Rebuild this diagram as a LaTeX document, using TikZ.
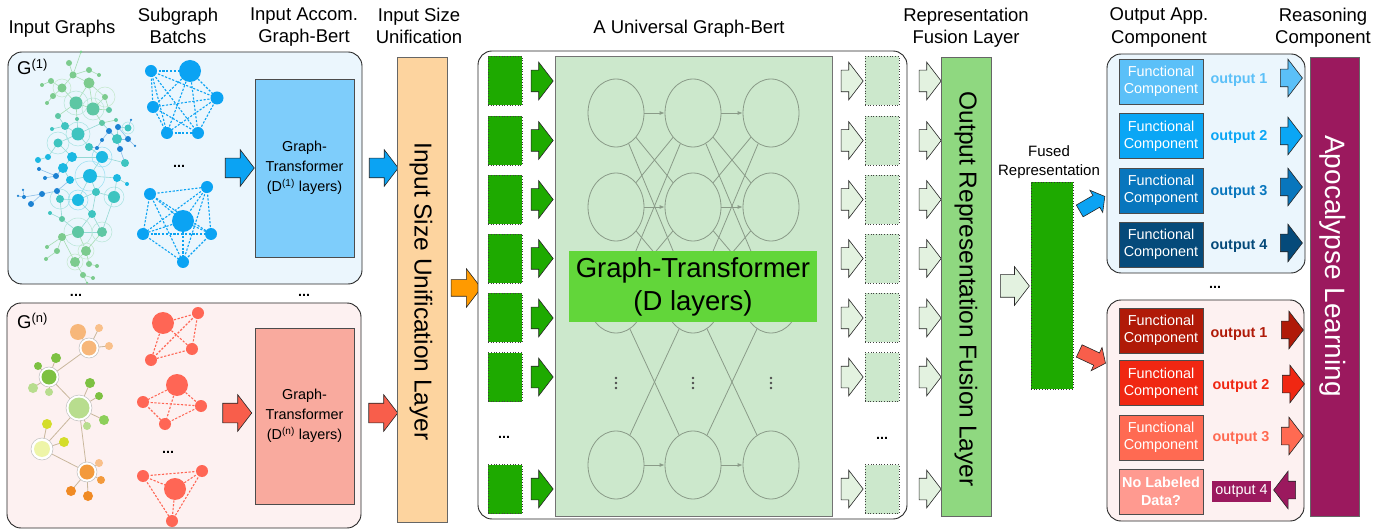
\documentclass[tikz,border=0pt]{standalone}
\usepackage{fontspec}
\setmainfont{Liberation Sans}
\usetikzlibrary{shapes.geometric,shapes.arrows,arrows.meta}
\definecolor{cPanelB}{HTML}{EBF6FD}
\definecolor{cPanelR}{HTML}{FDF1F1}
\definecolor{cBlueBox}{HTML}{7ECDFB}
\definecolor{cBlue}{HTML}{0BA3F3}
\definecolor{cSalmon}{HTML}{F9AA9E}
\definecolor{cRed}{HTML}{F85E4B}
\definecolor{cSubR}{HTML}{FF6655}
\definecolor{cOrangeBar}{HTML}{FDD49F}
\definecolor{cOrange}{HTML}{FF9A00}
\definecolor{cPanelG}{HTML}{CCE8CC}
\definecolor{cLabelG}{HTML}{62D63A}
\definecolor{cSq}{HTML}{1EAA00}
\definecolor{cLightArr}{HTML}{E3F2E0}
\definecolor{cFusion}{HTML}{8FD880}
\definecolor{cB1}{HTML}{5BC0F8}
\definecolor{cB2}{HTML}{0AA6F5}
\definecolor{cB3}{HTML}{0876BD}
\definecolor{cB4}{HTML}{054A7A}
\definecolor{cR1}{HTML}{B01A08}
\definecolor{cR2}{HTML}{F02712}
\definecolor{cR3}{HTML}{FF6A52}
\definecolor{cR4}{HTML}{FF9A90}
\definecolor{cPurple}{HTML}{9B195E}
\definecolor{cNN}{HTML}{8A9B88}
\definecolor{gA}{HTML}{7CCB8E}
\definecolor{gB}{HTML}{5EC7A4}
\definecolor{gC}{HTML}{3EC4C0}
\definecolor{gD}{HTML}{1BB8E2}
\definecolor{gE}{HTML}{1C82D2}
\definecolor{eA}{HTML}{A6DDB2}
\definecolor{eC}{HTML}{94D8D4}
\definecolor{eE}{HTML}{8CBFE8}
\definecolor{oL}{HTML}{F7B77A}
\definecolor{oM}{HTML}{F9C08A}
\definecolor{gG}{HTML}{7DC142}
\definecolor{gL}{HTML}{B8DD8E}
\definecolor{gM}{HTML}{8DCF5A}
\definecolor{yG}{HTML}{D4DD2A}
\definecolor{yP}{HTML}{EEF5A8}
\definecolor{oD}{HTML}{F39A3C}
\definecolor{oO}{HTML}{F08A24}
\definecolor{eT}{HTML}{C9B79C}
\newcommand{\fhdr}{\fontsize{18.5pt}{22.5pt}\selectfont}
\newcommand{\fsm}{\fontsize{14.4pt}{17.3pt}\selectfont}
\newcommand{\fgt}{\fontsize{14.4pt}{20pt}\selectfont}
\newcommand{\fbig}{\fontsize{27.5pt}{33pt}\selectfont}
\newcommand{\fbar}{\fontsize{24.5pt}{29pt}\selectfont}
\newcommand{\fapo}{\fontsize{28pt}{33pt}\selectfont}
\newcommand{\ffu}{\fontsize{15pt}{19.3pt}\selectfont}
\newcommand{\gn}[5]{\node[gnode={#5}{#4}] (#1) at (#2,#3) {};}
\pgfdeclarelayer{bg}\pgfdeclarelayer{edg}\pgfsetlayers{bg,edg,main}
\begin{document}
\begin{tikzpicture}[x=1pt,y=-1pt,
 hdr/.style={font=\fhdr,align=center,inner sep=0pt,anchor=north},
 gnode/.style 2 args={circle,inner sep=0pt,minimum size=#2,fill=#1},
 panel/.style={draw=black!85,line width=0.9pt,rounded corners=14pt,inner sep=0pt},
 sgB/.style={circle,inner sep=0pt,fill=cBlue,minimum size=#1},
 sgR/.style={circle,inner sep=0pt,fill=cSubR,minimum size=#1},
 dashB/.style={cBlue,line width=1.1pt,dash pattern=on 2.2pt off 1.6pt},
 dashR/.style={cSubR,line width=1.1pt,dash pattern=on 2.2pt off 1.6pt},
 blk/.style={single arrow,inner xsep=0pt,draw=black!85,line width=0.6pt,single arrow tip angle=105,anchor=center},
 arrL/.style={blk,minimum height=29pt,inner ysep=9.5pt,single arrow head extend=8.5pt},
 arrS/.style={blk,minimum height=22pt,inner ysep=10.5pt,single arrow head extend=8pt},
 arrO/.style={blk,minimum height=22pt,inner ysep=8.5pt,single arrow head extend=10pt},
 sq/.style={draw=black!75,dotted,line width=0.7pt,minimum width=34pt,minimum height=49pt,inner sep=0pt},
 ell/.style={ellipse,draw=cNN,line width=0.8pt,minimum width=56pt,minimum height=68pt,inner sep=0pt},
 nnl/.style={cNN,line width=0.8pt},
 nna/.style={cNN,line width=0.8pt,-{Latex[length=5pt,width=4pt]}},
 comp/.style={draw=black!70,line width=0.8pt,minimum width=84pt,minimum height=45pt,inner sep=0pt,align=center,text=white,font=\fsm},
 olab/.style={font=\fsm\bfseries,inner sep=0pt},
 dots/.style={font=\fsm\bfseries,inner sep=0pt},
 bar/.style={draw=black!60,line width=0.8pt,minimum width=50pt,inner sep=0pt}
]
\useasboundingbox (0,0) rectangle (1395,529);
% ---------- headers
\node[hdr] (hIG) at (62,19.5) {Input Graphs};
\node[hdr] (hSB) at (178,7.5) {Subgraph\\Batchs};
\node[hdr] (hIA) at (304,7.5) {Input Accom.\\Graph-Bert};
\node[hdr] (hIS) at (419,7.5) {Input Size\\Unification};
\node[hdr] (hUG) at (689,19.5) {A Universal Graph-Bert};
\node[hdr] (hRF) at (966,7.5) {Representation\\Fusion Layer};
\node[hdr] (hOA) at (1159,7.5) {Output App.\\Component};
\node[hdr] (hRC) at (1323,7.5) {Reasoning\\Component};
% ---------- input panels
\begin{pgfonlayer}{bg}
\node[panel,fill=cPanelB,minimum width=354pt,minimum height=232pt] (P1) at (185,168) {};
\node[panel,fill=cPanelR,minimum width=354pt,minimum height=225pt] (P2) at (184,415.5) {};
\end{pgfonlayer}
\node[anchor=west,font=\fhdr,inner sep=0pt] (G1) at (17,67) {G\textsuperscript{(1)}};
\node[anchor=west,font=\fhdr,inner sep=0pt] (Gn) at (17,321) {G\textsuperscript{(n)}};
% ---------- G(1) graph
\gn{n1}{81}{52}{3pt}{gA}\gn{n2}{69}{63}{6pt}{gA}\gn{n3}{89}{70}{6pt}{gA}\gn{n4}{99}{75}{4pt}{gA}
\gn{n5}{73}{75}{7pt}{gA}\gn{n6}{51}{81}{6pt}{gA}\gn{n7}{42}{85}{4pt}{gA}\gn{n8}{62}{88}{9pt}{gA}
\gn{n9}{89}{83}{11pt}{gA}\gn{n10}{53}{96}{6pt}{gA}\gn{n11}{105}{97}{6pt}{gA}\gn{n12}{76}{103}{13pt}{gB}
\gn{n13}{93}{109}{13pt}{gB}\gn{n14}{47}{103}{4pt}{gA}\gn{n15}{109}{110}{6pt}{gB}\gn{n16}{58}{116}{6pt}{gB}
\gn{n17}{77}{119}{4pt}{gB}\gn{n18}{102}{123}{6pt}{gB}\gn{n19}{116}{120}{4pt}{gB}\gn{n20}{65}{126}{8pt}{gC}
\gn{n21}{52}{129}{4pt}{gC}\gn{n22}{78}{134}{13pt}{gC}\gn{n23}{109}{131}{6pt}{gE}\gn{n24}{118}{127}{6pt}{gE}
\gn{n25}{128}{128}{7pt}{gC}\gn{n26}{131}{120}{2.5pt}{gE}\gn{n27}{58}{143}{9pt}{gC}\gn{n28}{89}{147}{8pt}{gC}
\gn{n29}{117}{139}{10pt}{gC}\gn{n30}{102}{140}{4pt}{gE}\gn{n31}{128}{139}{6pt}{gE}\gn{n32}{120}{149}{6pt}{gE}
\gn{n33}{97}{148}{4pt}{gE}\gn{n34}{125}{163}{8pt}{gC}\gn{n36}{135}{146}{2.5pt}{gE}\gn{n37}{38}{160}{6pt}{gD}
\gn{n38}{48}{157}{6pt}{gD}\gn{n39}{72}{157}{10pt}{gD}\gn{n40}{102}{157}{12pt}{gD}\gn{n41}{63}{168}{10pt}{gD}
\gn{n43}{90}{176}{14pt}{gD}\gn{n44}{70}{180}{8pt}{gD}\gn{n45}{39}{169}{4pt}{gE}\gn{n46}{56}{176}{6pt}{gE}
\gn{n47}{45}{178}{4pt}{gE}\gn{n48}{117}{178}{8pt}{gD}\gn{n49}{127}{184}{4pt}{gD}\gn{n50}{23}{190}{2.5pt}{gE}
\gn{n51}{18}{196}{2.5pt}{gE}\gn{n52}{24}{197}{4pt}{gE}\gn{n53}{42}{194}{6pt}{gE}\gn{n54}{57}{191}{6pt}{gE}
\gn{n55}{31}{204}{6pt}{gE}\gn{n56}{60}{199}{8pt}{gC}\gn{n57}{78}{200}{12pt}{gD}\gn{n58}{96}{192}{8pt}{gC}
\gn{n59}{114}{197}{12pt}{gC}\gn{n60}{50}{213}{4pt}{gC}\gn{n61}{62}{219}{6pt}{gB}\gn{n62}{92}{214}{8pt}{gC}
\gn{n63}{78}{232}{12pt}{gB}\gn{n64}{102}{232}{10pt}{gB}\gn{n65}{62}{237}{8pt}{gA}\gn{n66}{47}{247}{4pt}{gA}
\gn{n67}{57}{251}{6pt}{gA}\gn{n68}{46}{259}{4pt}{gA}\gn{n69}{86}{251}{10pt}{gA}\gn{n70}{75}{262}{10pt}{gA}
\gn{n71}{89}{264}{6pt}{gA}\gn{n72}{97}{266}{4pt}{gA}\gn{n73}{83}{275}{6pt}{gA}\gn{n74}{93}{278}{4pt}{gA}
\gn{n75}{87}{283}{2.5pt}{gA}
\begin{pgfonlayer}{edg}
\foreach \a/\b in {n1/n5,n2/n5,n3/n5,n4/n3,n5/n9,n5/n8,n6/n8,n7/n6,n8/n10,n8/n12,n9/n12,n9/n13,n9/n11,n10/n14,n11/n13,n11/n15,n12/n13,n12/n16,n12/n17,n13/n18,n13/n15,n18/n19,n63/n65,n65/n66,n65/n67,n67/n68,n63/n69,n64/n69,n69/n70,n69/n71,n71/n72,n70/n73,n73/n74,n73/n75,n65/n70}
  \draw[eA,line width=0.6pt] (\a.center) -- (\b.center);
\foreach \a/\b in {n16/n20,n20/n21,n20/n22,n17/n22,n22/n27,n22/n28,n22/n18,n18/n29,n29/n24,n24/n25,n27/n39,n27/n38,n38/n37,n28/n40,n39/n41,n39/n40,n40/n43,n40/n34,n41/n44,n43/n44,n43/n48,n48/n49,n43/n58,n54/n56,n56/n57,n57/n43,n57/n58,n58/n59,n59/n48,n56/n61,n60/n61,n58/n62,n62/n57,n62/n63,n62/n64,n61/n63,n63/n64,n59/n64}
  \draw[eC,line width=0.6pt] (\a.center) -- (\b.center);
\foreach \a/\b in {n29/n23,n29/n32,n29/n31,n25/n26,n23/n30,n30/n33,n33/n28,n34/n32,n31/n36,n41/n46,n46/n45,n46/n47,n44/n54,n54/n53,n53/n52,n52/n50,n52/n51,n53/n55,n24/n31}
  \draw[eE,line width=0.6pt] (\a.center) -- (\b.center);
\foreach \a/\r/\c in {n8/9/gA,n11/10/gA,n12/12/gB,n13/11/gB,n22/12/gC,n25/6/gC,n27/11/gC,n40/10/gD,n43/15/gD,n56/10/gC,n57/10/gD,n59/10/gC,n63/14/gB,n64/10/gB,n69/8/gA,n70/8/gA}
  \draw[\c!45,line width=0.5pt] (\a.center) circle (\r);
\end{pgfonlayer}
% ---------- G(n) graph
\gn{m1}{78}{332}{16pt}{oL}\gn{m2}{99}{328}{8pt}{oM}\gn{m3}{89}{348}{15pt}{oL}\gn{m4}{109}{346}{8pt}{oM}
\gn{m5}{56}{358}{10pt}{gG}\gn{m6}{38}{366}{8pt}{gG}\gn{m7}{49}{377}{15pt}{gG}\gn{m8}{33}{388}{10pt}{gL}
\gn{m9}{49}{392}{8pt}{gL}\gn{m10}{90}{383}{10pt}{gG}\gn{m11}{99}{396}{8pt}{gG}\gn{m12}{79}{408}{21pt}{gL}
\gn{m13}{104}{420}{10pt}{gM}\gn{m14}{87}{426}{8pt}{gL}\gn{m15}{47}{424}{10pt}{yG}\gn{m16}{64}{442}{10pt}{yG}
\gn{m17}{42}{449}{16pt}{yP}\gn{m18}{87}{472}{15pt}{oD}\gn{m19}{99}{463}{8pt}{oM}\gn{m20}{101}{480}{8pt}{oD}
\gn{m21}{71}{491}{10pt}{oO}\gn{m22}{88}{496}{10pt}{oO}
\begin{pgfonlayer}{edg}
\foreach \a/\b in {m1/m3,m2/m3,m4/m3,m3/m7,m5/m7,m6/m7,m8/m7,m9/m7,m7/m12,m10/m12,m11/m12,m13/m12,m14/m12,m12/m17,m12/m18,m15/m17,m16/m17,m17/m18,m19/m18,m20/m18,m21/m18,m22/m18}
  \draw[eT,line width=0.8pt] (\a.center) -- (\b.center);
\foreach \a/\r in {m3/10,m7/10,m12/13,m17/11,m18/10}
  \draw[black!25,fill=white,line width=0.5pt] (\a.center) circle (\r);
\end{pgfonlayer}
% ---------- subgraph batches (blue)
\node[sgB=12pt] (a1) at (151,71) {};\node[sgB=22pt] (a2) at (190,71) {};\node[sgB=13pt] (a3) at (217,98) {};
\node[sgB=12pt] (a4) at (153,107) {};\node[sgB=12pt] (a5) at (167,133) {};\node[sgB=12pt] (a6) at (198,133) {};
\node[sgB=12pt] (b1) at (150,194) {};\node[sgB=12pt] (b2) at (207,187) {};\node[sgB=22pt] (b3) at (183,221) {};
\node[sgB=12pt] (b4) at (143,234) {};\node[sgB=12pt] (b5) at (211,234) {};\node[sgB=12pt] (b6) at (183,262) {};
\begin{pgfonlayer}{edg}
\foreach \i/\js in {1/{2,3,4,5,6},2/{3,4,5,6},3/{4,5,6},4/{5,6},5/{6}}
  \foreach \j in \js {\draw[dashB] (a\i.center) -- (a\j.center); \draw[dashB] (b\i.center) -- (b\j.center);}
\end{pgfonlayer}
\node[dots] (d1) at (179,166) {...};
% ---------- subgraph batches (red)
\node[sgR=22pt] (c1) at (163,323) {};\node[sgR=12pt] (c2) at (198,313) {};\node[sgR=12pt] (c3) at (192,349) {};\node[sgR=12pt] (c4) at (151,360) {};
\node[sgR=22pt] (e1) at (177,385) {};\node[sgR=12pt] (e2) at (143,402) {};\node[sgR=12pt] (e3) at (201,406) {};\node[sgR=12pt] (e4) at (165,424) {};
\node[sgR=12pt] (f1) at (143,476) {};\node[sgR=12pt] (f2) at (202,471) {};\node[sgR=22pt] (f3) at (175,489) {};\node[sgR=12pt] (f4) at (172,521) {};
\begin{pgfonlayer}{edg}
\foreach \i/\js in {1/{2,3,4},2/{3,4},3/{4}}
  \foreach \j in \js {\draw[dashR] (c\i.center) -- (c\j.center); \draw[dashR] (e\i.center) -- (e\j.center); \draw[dashR] (f\i.center) -- (f\j.center);}
\end{pgfonlayer}
\node[dots] (d2) at (168,452) {...};
\node[dots] (d3) at (76,295) {...};
\node[dots] (d4) at (304,295) {...};
% ---------- per-graph transformers
\node[draw=black!70,line width=0.8pt,fill=cBlueBox,minimum width=99pt,minimum height=178pt,inner sep=0pt,align=center,font=\fgt] (T1) at (304.5,168) {Graph-\\Transformer\\(D\textsuperscript{(1)} layers)};
\node[draw=black!70,line width=0.8pt,fill=cSalmon,minimum width=99pt,minimum height=176pt,inner sep=0pt,align=center,font=\fgt] (Tn) at (304.5,416) {Graph-\\Transformer\\(D\textsuperscript{(n)} layers)};
\node[arrL,fill=cBlue] (ab1) at (236,168) {};
\node[arrL,fill=cBlue] (ab2) at (380,168) {};
\node[arrL,fill=cRed] (ar1) at (233.5,413) {};
\node[arrL,fill=cRed] (ar2) at (379.5,413) {};
% ---------- input size unification
\node[bar,fill=cOrangeBar,minimum height=465pt] (ISU) at (422,289.5) {};
\node[rotate=-90,font=\fbar,inner sep=0pt] (ISUt) at (421,291.5) {Input Size Unification Layer};
\node[blk,fill=cOrange,minimum height=30pt,inner ysep=8pt,single arrow head extend=11pt] (ao) at (463,288) {};
% ---------- universal graph-bert
\node[draw=black!85,line width=0.9pt,fill=white,rounded corners=14pt,minimum width=429pt,minimum height=468pt,inner sep=0pt] (UB) at (692.5,285) {};
\node[draw=black!55,line width=0.8pt,fill=cPanelG,minimum width=277pt,minimum height=460pt,inner sep=0pt] (GP) at (693.5,286) {};
\foreach \r/\y in {1/113,2/207,3/299,4/465}
  \foreach \c/\x in {1/616,2/693,3/771}
    \node[ell] (p\r\c) at (\x,\y) {};
\foreach \r/\s in {1/2,2/3,1/3,3/4}
  \foreach \a/\b in {1/2,2/1,2/3,3/2}
    \draw[nnl] (p\r\a) -- (p\s\b);
\foreach \r in {1,2,3,4} {\draw[nna] (p\r1) -- (p\r2); \draw[nna] (p\r2) -- (p\r3);}
\node[fill=cLabelG,minimum width=248pt,minimum height=71pt,inner sep=0pt,align=center,font=\fbig] (GTL) at (693,286.5) {Graph-Transformer\\(D layers)};
\foreach \x in {616,693,771}
  \foreach \dy in {-5,0,5}
    \fill[black!70] (\x,383+\dy) circle (1.3);
\foreach \k/\y in {1/81,2/140.5,3/199.5,4/258.5,5/318,6/377,7/489} {
  \node[sq,fill=cSq] (sL\k) at (505,\y) {};
  \node[arrS,fill=cSq] (aL\k) at (538,\y) {};
  \node[arrS,fill=cLightArr] (aM\k) at (848,\y) {};
  \node[sq,fill=cPanelG] (sR\k) at (882,\y) {};
  \node[arrS,fill=cLightArr] (aN\k) at (926,\y) {};
}
\node[dots] (d5) at (504,437) {...};
\node[dots] (d6) at (882,438) {...};
% ---------- fusion
\node[bar,fill=cFusion,minimum height=459pt] (FUS) at (966,286.5) {};
\node[rotate=-90,font=\fbar,inner sep=0pt] (FUSt) at (966,289) {Output Representation Fusion Layer};
\node[blk,fill=cLightArr,minimum height=29pt,inner ysep=11pt,single arrow head extend=8pt] (af) at (1010.5,286) {};
\node[font=\ffu,align=center,inner sep=0pt,anchor=north] (FRt) at (1049,145.5) {Fused\\Representation};
\node[draw=black!80,dotted,line width=0.7pt,fill=cSq,minimum width=42pt,minimum height=207pt,inner sep=0pt] (FR) at (1052,285.5) {};
\node[blk,fill=cBlue,minimum height=29pt,inner ysep=6.5pt,single arrow head extend=6pt,rotate=30] (adB) at (1090,205) {};
\node[blk,fill=cRed,minimum height=29pt,inner ysep=6.5pt,single arrow head extend=6pt,rotate=-25] (adR) at (1090,356) {};
% ---------- output components
\begin{pgfonlayer}{bg}
\node[panel,fill=cPanelB,minimum width=198pt,minimum height=219pt] (O1) at (1206,163.5) {};
\node[panel,fill=cPanelR,minimum width=197pt,minimum height=221pt] (O2) at (1205.5,410.5) {};
\end{pgfonlayer}
\node[comp,fill=cB1] (fb1) at (1161,81.5) {Functional\\Component};
\node[comp,fill=cB2] (fb2) at (1161,136) {Functional\\Component};
\node[comp,fill=cB3] (fb3) at (1161,190.5) {Functional\\Component};
\node[comp,fill=cB4] (fb4) at (1161,244.5) {Functional\\Component};
\node[olab,text=cB1] (ob1) at (1239,80) {output 1};
\node[olab,text=cB2] (ob2) at (1239,137) {output 2};
\node[olab,text=cB3] (ob3) at (1239,192) {output 3};
\node[olab,text=cB4] (ob4) at (1239,246) {output 4};
\node[arrO,fill=cB1] (xb1) at (1288,78) {};
\node[arrO,fill=cB2] (xb2) at (1288,136) {};
\node[arrO,fill=cB3] (xb3) at (1288,187) {};
\node[arrO,fill=cB4] (xb4) at (1288,243) {};
\node[dots] (d7) at (1215,287) {...};
\node[comp,fill=cR1] (fr1) at (1161,330.5) {Functional\\Component};
\node[comp,fill=cR2] (fr2) at (1161,383) {Functional\\Component};
\node[comp,fill=cR3] (fr3) at (1161,437.5) {Functional\\Component};
\node[comp,fill=cR4,font=\fsm\bfseries] (fr4) at (1161,491.5) {No Labeled\\Data?};
\node[olab,text=cR1] (or1) at (1239,334) {output 1};
\node[olab,text=cR2] (or2) at (1241,386) {output 2};
\node[olab,text=cR3] (or3) at (1241,438) {output 3};
\node[fill=cPurple,text=white,font=\fsm,minimum width=59pt,minimum height=21pt,inner sep=0pt] (or4) at (1241.5,491.5) {output 4};
\node[arrO,fill=cR1] (xr1) at (1289,330) {};
\node[arrO,fill=cR2] (xr2) at (1290,384) {};
\node[arrO,fill=cR3] (xr3) at (1289,436) {};
\node[arrO,fill=cPurple,shape border rotate=180] (xr4) at (1288,490) {};
% ---------- reasoning
\node[bar,fill=cPurple,minimum width=49pt,minimum height=459pt] (APO) at (1334.5,286.5) {};
\node[rotate=-90,font=\fapo,text=white,inner sep=0pt] (APOt) at (1333,266) {Apocalypse Learning};
\end{tikzpicture}
\end{document}
